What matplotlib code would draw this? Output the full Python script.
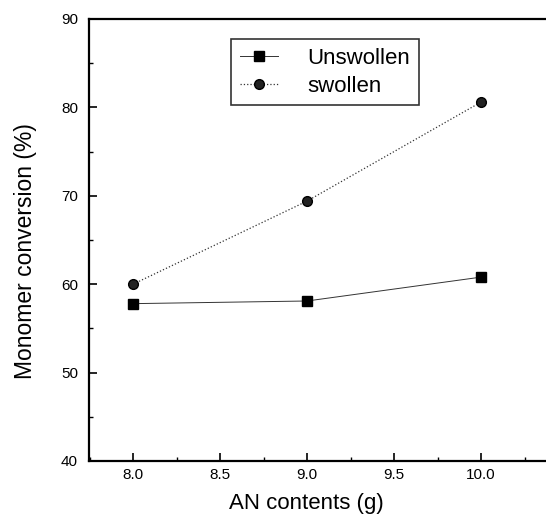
import matplotlib
matplotlib.use("Agg")
import matplotlib.pyplot as plt
from matplotlib.ticker import MultipleLocator

plt.rcParams["font.family"] = ["Liberation Sans", "DejaVu Sans"]

an_contents = [8.0, 9.0, 10.0]
unswollen = [57.8, 58.1, 60.8]
swollen = [60.0, 69.4, 80.6]

W, H = 546, 523
fig = plt.figure(figsize=(W / 100, H / 100), dpi=100)
# axes right spine runs off the page like in the scan
ax = fig.add_axes([89 / W, (H - 461) / H, (560 - 89) / W, (461 - 19) / H])

ax.plot(an_contents, unswollen, "-", color="#333333", lw=0.7,
        marker="s", ms=7, mfc="black", mec="black", label="Unswollen")
ax.plot(an_contents, swollen, ":", color="#333333", lw=0.9,
        marker="o", ms=7, mfc="#222222", mec="black", label="swollen")

ax.set_xlim(7.747, 10.454)
ax.set_ylim(40, 90)
ax.xaxis.set_major_locator(MultipleLocator(0.5))
ax.xaxis.set_minor_locator(MultipleLocator(0.25))
ax.yaxis.set_major_locator(MultipleLocator(10))
ax.yaxis.set_minor_locator(MultipleLocator(5))
ax.xaxis.set_major_formatter(plt.FormatStrFormatter("%.1f"))
ax.tick_params(which="both", direction="in", top=False, right=False)
ax.tick_params(which="major", length=6, width=1.2, labelsize=11)
ax.tick_params(axis="x", which="major", pad=5)
ax.tick_params(axis="y", which="major", pad=8)
ax.tick_params(which="minor", length=3, width=1)
for s in ax.spines.values():
    s.set_linewidth(1.6)

ax.set_xlabel("AN contents (g)", fontsize=16, labelpad=8)
ax.set_ylabel("Monomer conversion (%)", fontsize=16.5, labelpad=17)
ax.xaxis.label.set_x(0.461)
ax.yaxis.label.set_y(0.475)

leg = ax.legend(loc="upper left", bbox_to_anchor=((231 - 89) / (560 - 89), 1 - (39 - 19) / (461 - 19)),
                borderaxespad=0, fontsize=16, frameon=True, fancybox=False,
                edgecolor="black", handlelength=1.7, borderpad=0.4,
                labelspacing=0.3, handletextpad=1.35)
leg.get_frame().set_linewidth(1.2)

fig.savefig("out.png", dpi=100)
